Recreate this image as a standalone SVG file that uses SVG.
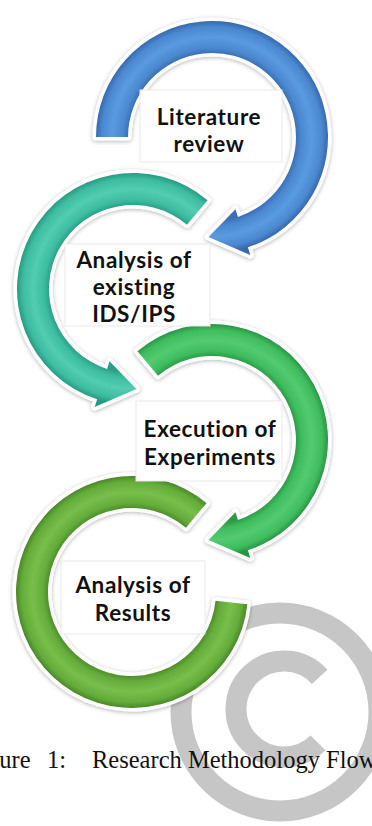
<svg xmlns="http://www.w3.org/2000/svg" xmlns:xlink="http://www.w3.org/1999/xlink" width="372" height="826" viewBox="0 0 372 826">
  <defs>
    <style>
      .halo { fill: #fff; stroke: #fff; stroke-width: 7; stroke-linejoin: round; filter: url(#shadow); }
      .box { fill: #fff; stroke: #e9e9e9; stroke-width: 1; }
      .label { font-family: Lato, "Liberation Sans", sans-serif; font-weight: 700; font-size: 22.5px; letter-spacing: 0.6px; fill: #111; text-anchor: middle; }
      .caption { font-family: "Liberation Serif", "Times New Roman", serif; font-size: 24.5px; fill: #111; }
      .mark { fill: none; stroke: #c6c6c6; stroke-width: 21; }
    </style>
    <filter id="shadow" x="-20%" y="-20%" width="140%" height="140%">
      <feDropShadow dx="0" dy="1" stdDeviation="2" flood-color="#000" flood-opacity="0.3"/>
    </filter>
    <!-- tube shading across the ring width (inner r 84, outer r 116) -->
    <radialGradient id="gBlue" gradientUnits="userSpaceOnUse" cx="212" cy="137" r="116">
      <stop offset="0.72" stop-color="#3a6fb3"/>
      <stop offset="0.77" stop-color="#4a88d0"/>
      <stop offset="0.86" stop-color="#5a9be0"/>
      <stop offset="0.95" stop-color="#4a88d0"/>
      <stop offset="1" stop-color="#3669ad"/>
    </radialGradient>
    <radialGradient id="gTeal" gradientUnits="userSpaceOnUse" cx="133" cy="289" r="116">
      <stop offset="0.72" stop-color="#2a9e86"/>
      <stop offset="0.77" stop-color="#3dbda0"/>
      <stop offset="0.86" stop-color="#52cdb2"/>
      <stop offset="0.95" stop-color="#3dbda0"/>
      <stop offset="1" stop-color="#279a82"/>
    </radialGradient>
    <radialGradient id="gGreen" gradientUnits="userSpaceOnUse" cx="212" cy="440" r="116">
      <stop offset="0.72" stop-color="#2c9a47"/>
      <stop offset="0.77" stop-color="#3ebd5e"/>
      <stop offset="0.86" stop-color="#53cb70"/>
      <stop offset="0.95" stop-color="#3ebd5e"/>
      <stop offset="1" stop-color="#2a9545"/>
    </radialGradient>
    <radialGradient id="gLeaf" gradientUnits="userSpaceOnUse" cx="132" cy="592" r="116">
      <stop offset="0.72" stop-color="#4d8b2a"/>
      <stop offset="0.77" stop-color="#64ad3a"/>
      <stop offset="0.86" stop-color="#78be4a"/>
      <stop offset="0.95" stop-color="#64ad3a"/>
      <stop offset="1" stop-color="#4a8728"/>
    </radialGradient>
    <!-- circular arrow outlines -->
    <path id="arcResults" d="M206.56,503.14 A116,116 0 1 0 247.36,604.13 L215.54,600.78 A84,84 0 1 1 186,527.65 Z"/>
    <path id="arcExec" d="M137.44,351.14 A116,116 0 1 1 247.85,550.32 L250.32,557.93 L208.51,539.94 L235.49,512.28 L237.96,519.89 A84,84 0 1 0 158,375.65 Z"/>
    <path id="arcIds" d="M207.56,200.14 A116,116 0 1 0 97.15,399.32 L94.68,406.93 L136.49,388.94 L109.51,361.28 L107.04,368.89 A84,84 0 1 1 187,224.65 Z"/>
    <path id="arcLit" d="M96,137 A116,116 0 1 1 247.85,247.32 L250.32,254.93 L208.51,236.94 L235.49,209.28 L237.96,216.89 A84,84 0 1 0 128,137 Z"/>
  </defs>

  <rect width="372" height="826" fill="#fff"/>

  <!-- copyright watermark -->
  <g id="watermark">
    <circle class="mark" cx="280" cy="712" r="99"/>
    <path class="mark" d="M319.67,676.88 A48,48 0 1 0 317.94,742.94"/>
  </g>

  <!-- circular arrows linking the steps -->
  <g id="connectors">
    <use xlink:href="#arcResults" class="halo"/>
    <use xlink:href="#arcResults" fill="url(#gLeaf)"/>
    <use xlink:href="#arcExec" class="halo"/>
    <use xlink:href="#arcExec" fill="url(#gGreen)"/>
    <use xlink:href="#arcIds" class="halo"/>
    <use xlink:href="#arcIds" fill="url(#gTeal)"/>
    <use xlink:href="#arcLit" class="halo"/>
    <use xlink:href="#arcLit" fill="url(#gBlue)"/>
  </g>

  <g id="literature-review">
    <rect class="box" x="140" y="90" width="142" height="72"/>
    <text class="label" x="209" y="125">Literature</text>
    <text class="label" x="209" y="152">review</text>
  </g>

  <g id="analysis-existing">
    <rect class="box" x="65" y="244" width="145" height="82"/>
    <text class="label" x="134" y="268">Analysis of</text>
    <text class="label" x="134" y="295">existing</text>
    <text class="label" x="134" y="322">IDS/IPS</text>
  </g>

  <g id="execution">
    <rect class="box" x="136" y="401" width="146" height="80"/>
    <text class="label" x="210" y="437">Execution of</text>
    <text class="label" x="210" y="465">Experiments</text>
  </g>

  <g id="analysis-results">
    <rect class="box" x="61" y="561" width="144" height="73"/>
    <text class="label" x="133" y="593">Analysis of</text>
    <text class="label" x="133" y="621">Results</text>
  </g>

  <text class="caption" y="768"><tspan x="-13">gure </tspan><tspan x="47">1: </tspan><tspan x="92">Research Methodology Flow</tspan></text>
</svg>
